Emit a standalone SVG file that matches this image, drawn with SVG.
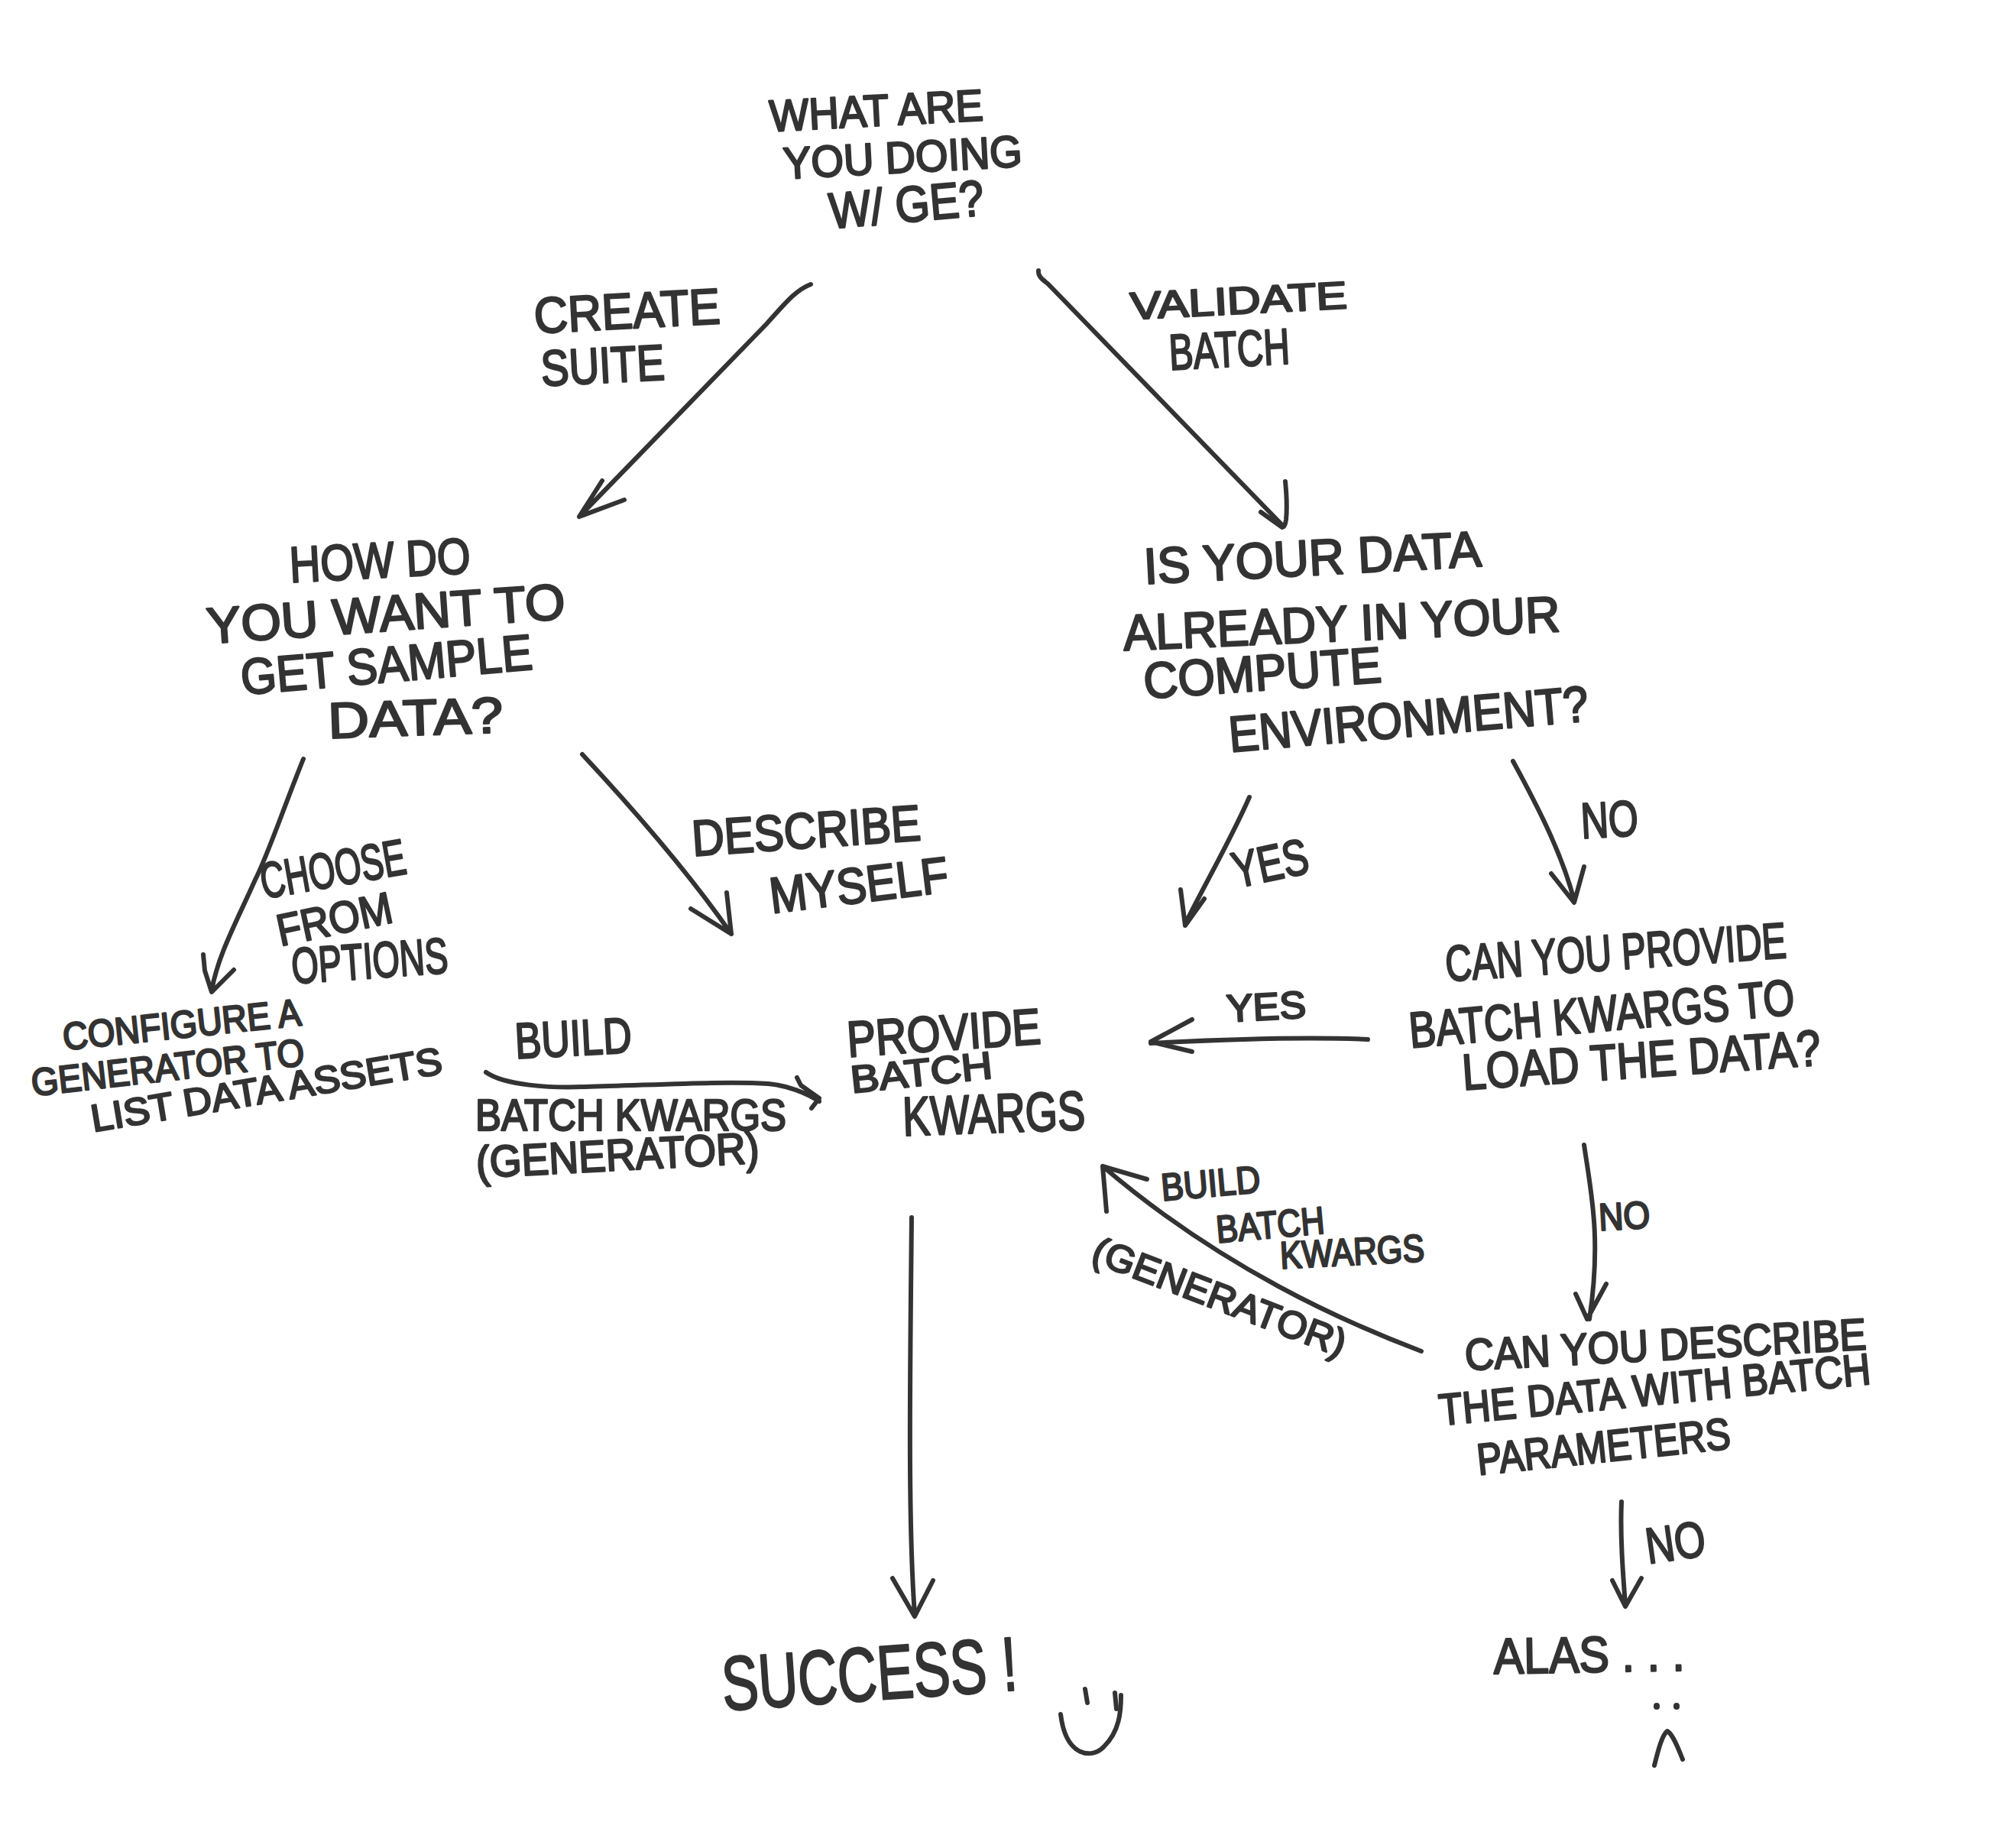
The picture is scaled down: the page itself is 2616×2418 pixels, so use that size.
<svg xmlns="http://www.w3.org/2000/svg" width="2616" height="2418" viewBox="0 0 2616 2418">
<style>
text{font-family:"Liberation Sans",Arial,sans-serif;fill:#333;stroke:#333;stroke-width:2.5;stroke-linejoin:round}
.c path,.f path{fill:none;stroke:#333;stroke-width:6;stroke-linecap:round;stroke-linejoin:round}
.f .dot{stroke-width:8}
.s50{font-size:50px}.s58{font-size:58px}.s66{font-size:66px}.s72{font-size:72px}.s100{font-size:100px}
</style>
<rect width="2616" height="2418" fill="#fff"/>
<g id="connectors" class="c">
<path d="M1061 372C1040 380 1025 400 1003 424L758 676M788 629L758 676L817 654"/>
<path d="M1359 354C1358 362 1365 366 1372 372L1678 687M1682 630C1684 650 1684 670 1683 680C1682 688 1680 690 1678 690L1650 670"/>
<path d="M397 993C370 1060 350 1120 334 1151C310 1205 285 1250 277 1296M266 1249L268 1270L277 1298L306 1269"/>
<path d="M762 987C830 1060 900 1140 957 1222M951 1168L957 1222L904 1189"/>
<path d="M636 1403C660 1420 720 1424 766 1422C850 1420 950 1414 1005 1418C1030 1420 1055 1430 1072 1441M1043 1410L1048 1420L1072 1437L1062 1450"/>
<path d="M1193 1593C1191 1800 1188 1990 1197 2112M1168 2065L1197 2115L1221 2068"/>
<path d="M1635 1043C1610 1100 1575 1160 1551 1209M1545 1164L1551 1211L1576 1176"/>
<path d="M1980 996C2015 1060 2045 1120 2060 1178M2030 1143L2060 1181L2073 1134"/>
<path d="M1790 1360C1700 1356 1600 1360 1506 1365M1560 1334L1506 1363L1560 1376"/>
<path d="M2073 1498C2082 1560 2096 1620 2080 1726M2062 1693L2077 1726L2102 1680"/>
<path d="M1860 1768C1760 1730 1600 1660 1443 1526M1448 1585L1443 1526L1501 1543"/>
<path d="M2122 1965C2120 2010 2124 2060 2127 2100M2110 2068L2127 2102L2148 2065"/>
</g>
<g id="what">
<text class="s58" x="1008" y="172" textLength="280" lengthAdjust="spacingAndGlyphs" transform="rotate(-3 1008 172)">WHAT ARE</text>
<text class="s58" x="1026" y="234" textLength="313" lengthAdjust="spacingAndGlyphs" transform="rotate(-3 1026 234)">YOU DOING</text>
<text class="s66" x="1087" y="299" textLength="203" lengthAdjust="spacingAndGlyphs" transform="rotate(-5 1087 299)">W/ GE?</text>
</g>
<g id="label-create">
<text class="s66" x="700" y="436" textLength="244" lengthAdjust="spacingAndGlyphs" transform="rotate(-3 700 436)">CREATE</text>
<text class="s66" x="709" y="505" textLength="162" lengthAdjust="spacingAndGlyphs" transform="rotate(-3 709 505)">SUITE</text>
</g>
<g id="label-validate">
<text class="s50" x="1480" y="418" textLength="284" lengthAdjust="spacingAndGlyphs" transform="rotate(-3 1480 418)">VALIDATE</text>
<text class="s66" x="1531" y="484" textLength="158" lengthAdjust="spacingAndGlyphs" transform="rotate(-3 1531 484)">BATCH</text>
</g>
<g id="how">
<text class="s66" x="380" y="762" textLength="237" lengthAdjust="spacingAndGlyphs" transform="rotate(-3 380 762)">HOW DO</text>
<text class="s66" x="272" y="842" textLength="470" lengthAdjust="spacingAndGlyphs" transform="rotate(-4 272 842)">YOU WANT TO</text>
<text class="s66" x="317" y="909" textLength="383" lengthAdjust="spacingAndGlyphs" transform="rotate(-5 317 909)">GET SAMPLE</text>
<text class="s66" x="430" y="966" textLength="229" lengthAdjust="spacingAndGlyphs" transform="rotate(-2 430 966)">DATA?</text>
</g>
<g id="data-ready">
<text class="s66" x="1498" y="764" textLength="442" lengthAdjust="spacingAndGlyphs" transform="rotate(-3 1498 764)">IS YOUR DATA</text>
<text class="s66" x="1471" y="851" textLength="572" lengthAdjust="spacingAndGlyphs" transform="rotate(-2.5 1471 851)">ALREADY IN YOUR</text>
<text class="s66" x="1498" y="914" textLength="312" lengthAdjust="spacingAndGlyphs" transform="rotate(-4 1498 914)">COMPUTE</text>
<text class="s66" x="1610" y="984" textLength="472" lengthAdjust="spacingAndGlyphs" transform="rotate(-5 1610 984)">ENVIRONMENT?</text>
</g>
<g id="label-choose">
<text class="s66" x="345" y="1176" textLength="192" lengthAdjust="spacingAndGlyphs" transform="rotate(-10 345 1176)">CHOOSE</text>
<text class="s58" x="367" y="1238" textLength="153" lengthAdjust="spacingAndGlyphs" transform="rotate(-12 367 1238)">FROM</text>
<text class="s66" x="383" y="1287" textLength="205" lengthAdjust="spacingAndGlyphs" transform="rotate(-4 383 1287)">OPTIONS</text>
</g>
<g id="label-describe">
<text class="s66" x="907" y="1120" textLength="300" lengthAdjust="spacingAndGlyphs" transform="rotate(-4 907 1120)">DESCRIBE</text>
<text class="s66" x="1010" y="1195" textLength="235" lengthAdjust="spacingAndGlyphs" transform="rotate(-7 1010 1195)">MYSELF</text>
</g>
<g id="configure">
<text class="s50" x="84" y="1374" textLength="313" lengthAdjust="spacingAndGlyphs" transform="rotate(-6 84 1374)">CONFIGURE A</text>
<text class="s50" x="43" y="1434" textLength="359" lengthAdjust="spacingAndGlyphs" transform="rotate(-6.5 43 1434)">GENERATOR TO</text>
<text class="s50" x="122" y="1481" textLength="465" lengthAdjust="spacingAndGlyphs" transform="rotate(-9.5 122 1481)">LIST DATA ASSETS</text>
</g>
<g id="label-build-1">
<text class="s66" x="675" y="1385" textLength="153" lengthAdjust="spacingAndGlyphs" transform="rotate(-3 675 1385)">BUILD</text>
<text class="s58" x="622" y="1479" textLength="407" lengthAdjust="spacingAndGlyphs">BATCH KWARGS</text>
<text class="s58" x="624" y="1541" textLength="371" lengthAdjust="spacingAndGlyphs" transform="rotate(-3 624 1541)">(GENERATOR)</text>
</g>
<g id="provide">
<text class="s66" x="1110" y="1383" textLength="254" lengthAdjust="spacingAndGlyphs" transform="rotate(-4 1110 1383)">PROVIDE</text>
<text class="s50" x="1115" y="1430" textLength="186" lengthAdjust="spacingAndGlyphs" transform="rotate(-6 1115 1430)">BATCH</text>
<text class="s72" x="1182" y="1486" textLength="239" lengthAdjust="spacingAndGlyphs" transform="rotate(-2 1182 1486)">KWARGS</text>
</g>
<g id="label-yes-1"><text class="s66" x="1618" y="1162" textLength="100" lengthAdjust="spacingAndGlyphs" transform="rotate(-12 1618 1162)">YES</text></g>
<g id="label-no-1"><text class="s66" x="2070" y="1097" textLength="75" lengthAdjust="spacingAndGlyphs" transform="rotate(-3 2070 1097)">NO</text></g>
<g id="label-yes-2"><text class="s50" x="1606" y="1337" textLength="104" lengthAdjust="spacingAndGlyphs" transform="rotate(-3 1606 1337)">YES</text></g>
<g id="provide-q">
<text class="s66" x="1893" y="1284" textLength="447" lengthAdjust="spacingAndGlyphs" transform="rotate(-4 1893 1284)">CAN YOU PROVIDE</text>
<text class="s66" x="1846" y="1371" textLength="506" lengthAdjust="spacingAndGlyphs" transform="rotate(-5 1846 1371)">BATCH KWARGS TO</text>
<text class="s66" x="1915" y="1426" textLength="470" lengthAdjust="spacingAndGlyphs" transform="rotate(-4 1915 1426)">LOAD THE DATA?</text>
</g>
<g id="label-no-2"><text class="s50" x="2093" y="1610" textLength="67" lengthAdjust="spacingAndGlyphs" transform="rotate(-3 2093 1610)">NO</text></g>
<g id="label-build-2">
<text class="s50" x="1521" y="1571" textLength="130" lengthAdjust="spacingAndGlyphs" transform="rotate(-5 1521 1571)">BUILD</text>
<text class="s50" x="1593" y="1626" textLength="142" lengthAdjust="spacingAndGlyphs" transform="rotate(-5 1593 1626)">BATCH</text>
<text class="s50" x="1676" y="1660" textLength="189" lengthAdjust="spacingAndGlyphs" transform="rotate(-3 1676 1660)">KWARGS</text>
<text class="s50" x="1426" y="1650" textLength="351" lengthAdjust="spacingAndGlyphs" transform="rotate(21 1426 1650)">(GENERATOR)</text>
</g>
<g id="describe-q">
<text class="s58" x="1918" y="1793" textLength="526" lengthAdjust="spacingAndGlyphs" transform="rotate(-3 1918 1793)">CAN YOU DESCRIBE</text>
<text class="s58" x="1885" y="1865" textLength="567" lengthAdjust="spacingAndGlyphs" transform="rotate(-5.5 1885 1865)">THE DATA WITH BATCH</text>
<text class="s58" x="1935" y="1930" textLength="333" lengthAdjust="spacingAndGlyphs" transform="rotate(-6 1935 1930)">PARAMETERS</text>
</g>
<g id="label-no-3"><text class="s66" x="2157" y="2046" textLength="78" lengthAdjust="spacingAndGlyphs" transform="rotate(-8 2157 2046)">NO</text></g>
<g id="success" class="f">
<text class="s100" x="947" y="2238" textLength="387" lengthAdjust="spacingAndGlyphs" transform="rotate(-4 947 2238)">SUCCESS !</text>
<path d="M1388 2243C1395 2300 1430 2302 1445 2285C1465 2265 1467 2240 1467 2218"/>
<path d="M1420 2210L1423 2228M1459 2215L1461 2236"/>
</g>
<g id="alas" class="f">
<text class="s66" x="1955" y="2190" textLength="250" lengthAdjust="spacingAndGlyphs" transform="rotate(-1 1955 2190)">ALAS . . .</text>
<path class="dot" d="M2168 2232L2168 2233M2194 2232L2194 2233"/>
<path d="M2165 2310C2170 2290 2175 2270 2182 2265C2190 2270 2197 2290 2202 2302"/>
</g>
</svg>
